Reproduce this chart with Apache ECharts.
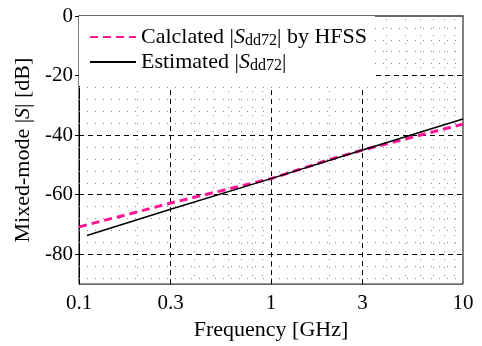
<!DOCTYPE html>
<html><head><meta charset="utf-8">
<script src="https://cdn.jsdelivr.net/npm/echarts@6/dist/echarts.min.js"></script>
<style>html,body{margin:0;padding:0;background:#fff}#c{width:482px;height:346px}</style>
</head><body><div id="c"></div>
<script>
const hfssFreq = [0.1, 0.2, 0.3, 0.5, 1, 2, 3, 5, 10];
const hfssDb   = [-70.8, -65.8, -62.8, -59.3, -54.6, -48.3, -45.0, -41.3, -36.3];
const estFreq  = [0.11, 0.3, 1, 3, 10];
const estDb    = [-73.7, -64.9, -54.6, -45.0, -34.6];
const xTickLabels = [0.1, 0.3, 1, 3, 10];
const yTickLabels = [0, -20, -40, -60, -80];
const xMajorGrid = [0.3, 1, 3];
const xMinorGrid = [0.2, 0.4, 0.5, 0.6, 0.7, 0.8, 0.9, 2, 4, 5, 6, 7, 8, 9];
const yMajorGrid = [-20, -40, -60, -80];
const yMinorGrid = [-4, -8, -12, -16, -24, -28, -32, -36, -44, -48, -52, -56, -64, -68, -72, -76, -84, -88];

const font = 'Liberation Serif';
const pink = '#ff1493';
const chart = echarts.init(document.getElementById('c'), null, {renderer: 'canvas'});

const dotted = {color: '#888', width: 1, type: [1, 7]};
const dashed = {color: '#000', width: 1, type: [5, 4]};
const gridLines = [];
xMinorGrid.forEach(v => gridLines.push({xAxis: v, lineStyle: dotted}));
yMinorGrid.forEach(v => gridLines.push({yAxis: v, lineStyle: dotted}));
xMajorGrid.forEach(v => gridLines.push({xAxis: v, lineStyle: dashed}));
yMajorGrid.forEach(v => gridLines.push({yAxis: v, lineStyle: dashed}));

const rich = {
  n: {fontFamily: font, fontSize: 22, color: '#000', lineHeight: 22},
  i: {fontFamily: font, fontSize: 22, fontStyle: 'italic', color: '#000', lineHeight: 22},
  s: {fontFamily: font, fontSize: 16, color: '#000', lineHeight: 22, padding: [8, 0, 0, 0]}
};

chart.setOption({
  animation: false,
  backgroundColor: '#fff',
  grid: {left: 79, right: 19, top: 16, bottom: 56, show: true, borderColor: '#000', borderWidth: 1, backgroundColor: 'transparent'},
  legend: {
    left: 79, top: 16, orient: 'vertical',
    backgroundColor: '#fff',
    padding: [9, 8, 12, 10],
    itemGap: 1, itemWidth: 46, itemHeight: 14,
    data: ['hfss', 'est'],
    itemStyle: {opacity: 0, borderWidth: 0},
    formatter: function (name) {
      if (name === 'hfss') return '{n|Calclated |}{i|S}{s|dd72}{n|| by HFSS}';
      return '{n|Estimated |}{i|S}{s|dd72}{n||}';
    },
    textStyle: {fontFamily: font, fontSize: 22, color: '#000', rich: rich}
  },
  xAxis: {
    type: 'log', logBase: 10, min: 0.1, max: 10,
    name: 'Frequency [GHz]', nameLocation: 'middle', nameGap: 31,
    nameTextStyle: {fontFamily: font, fontSize: 22, color: '#000'},
    axisLine: {show: true, lineStyle: {color: '#666', width: 2}},
    axisTick: {show: false},
    axisLabel: {customValues: xTickLabels, fontFamily: font, fontSize: 21, color: '#000', margin: 9,
      formatter: v => String(Math.round(v * 1000) / 1000)},
    splitLine: {show: false}, minorSplitLine: {show: false}
  },
  yAxis: {
    type: 'value', min: -90, max: 0,
    name: '{n|Mixed-mode |}{i|S}{n|| [dB]}', nameLocation: 'middle', nameGap: 33,
    nameTextStyle: {fontFamily: font, fontSize: 22, color: '#000', rich: rich},
    axisLine: {show: true, lineStyle: {color: '#000', width: 1}},
    axisTick: {show: true, customValues: yTickLabels, length: 4, lineStyle: {color: '#000'}},
    axisLabel: {customValues: yTickLabels, fontFamily: font, fontSize: 21, color: '#000', margin: 6},
    splitLine: {show: false}
  },
  series: [
    {
      name: 'hfss', type: 'line', symbol: 'none', z: 3,
      data: hfssFreq.map((f, k) => [f, hfssDb[k]]),
      lineStyle: {color: pink, width: 3, type: [8, 5]},
      itemStyle: {color: pink},
      markLine: {silent: true, symbol: 'none', label: {show: false}, animation: false, data: gridLines, z: 1}
    },
    {
      name: 'est', type: 'line', symbol: 'none', z: 4,
      data: estFreq.map((f, k) => [f, estDb[k]]),
      lineStyle: {color: '#000', width: 1.5},
      itemStyle: {color: '#000'}
    }
  ]
});
</script></body></html>
